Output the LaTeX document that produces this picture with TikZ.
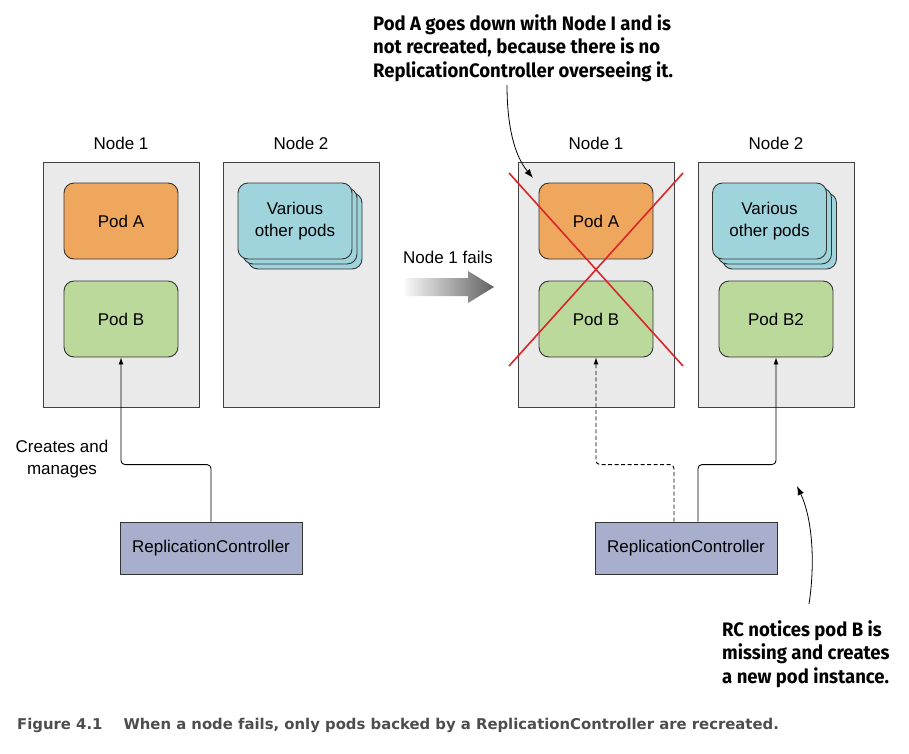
\documentclass[tikz,border=0pt]{standalone}
\usepackage{fontspec}
\setmainfont{Liberation Sans}
\newfontfamily\annfont[FakeStretch=0.95]{Fira Sans Bold}
\newfontfamily\capfont{DejaVu Sans Bold}
\usetikzlibrary{arrows.meta}
\definecolor{nodegray}{HTML}{EAEAEA}
\definecolor{podorange}{HTML}{EFA65D}
\definecolor{podgreen}{HTML}{BBD99A}
\definecolor{podblue}{HTML}{A0D4DC}
\definecolor{rcblue}{HTML}{A8AFCD}
\definecolor{xred}{HTML}{D9262A}
\definecolor{capgray}{HTML}{4D4D4D}
\begin{document}
\begin{tikzpicture}[x=1pt,y=-1pt,
  nodebox/.style={draw=black!75, fill=nodegray, line width=0.9pt, minimum width=156pt, minimum height=245pt, inner sep=0pt, anchor=north west},
  lbl/.style={font=\fontsize{17}{19}\selectfont, inner sep=0pt},
  pod/.style={draw=black!80, rounded corners=10pt, line width=0.9pt, minimum width=114pt, minimum height=76pt, inner sep=0pt, align=center, font=\fontsize{17}{22}\selectfont},
  rcbox/.style={draw=black!80, fill=rcblue, line width=0.9pt, minimum width=182pt, minimum height=52pt, inner sep=0pt, font=\fontsize{17}{19}\selectfont},
  conn/.style={line width=0.9pt, rounded corners=4pt, -{Latex[length=7pt,width=5pt]}},
  ann/.style={font=\annfont\fontsize{19.5}{23.5}\selectfont, align=left, inner sep=0pt, anchor=north west},
  annarrow/.style={line width=0.8pt, -{Latex[length=9pt,width=6.5pt]}},
  redx/.style={draw=xred, line width=1.6pt}
]
\useasboundingbox (0,0) rectangle (909,753);

% ---------- left: before ----------
\node[nodebox] (n1L) at (43,162) {};
\node[nodebox] (n2L) at (223,162) {};
\node[lbl] (n1Lt) at (121,143) {Node 1};
\node[lbl] (n2Lt) at (301,143) {Node 2};
\node[pod, fill=podorange] (podAL) at (121,221) {Pod A};
\node[pod, fill=podgreen] (podBL) at (121,319) {Pod B};
\node[pod, fill=podblue] (varL3) at (305,231) {};
\node[pod, fill=podblue] (varL2) at (300,226) {};
\node[pod, fill=podblue] (varL) at (295,221) {Various\\other pods};
\node[rcbox] (rcL) at (211,548) {ReplicationController};
\node[lbl, align=center, font=\fontsize{17}{22}\selectfont] (cmL) at (62,459) {Creates and\\manages};
\draw[conn] (rcL.north) -- ++(0,-57) -| (podBL.south);

% ---------- middle arrow ----------
\node[lbl] (fails) at (448,257) {Node 1 fails};
\shade[left color=black!3, right color=black!62]
  (405,278) -- (468,278) -- (468,271) -- (494,287) -- (468,303) -- (468,296) -- (405,296) -- cycle;

% ---------- right: after ----------
\node[nodebox] (n1R) at (518,162) {};
\node[nodebox] (n2R) at (698,162) {};
\node[lbl] (n1Rt) at (596,143) {Node 1};
\node[lbl] (n2Rt) at (776,143) {Node 2};
\node[pod, fill=podorange] (podAR) at (596,221) {Pod A};
\node[pod, fill=podgreen] (podBR) at (596,319) {Pod B};
\node[pod, fill=podblue] (varR3) at (779.5,231) {};
\node[pod, fill=podblue] (varR2) at (774.5,226) {};
\node[pod, fill=podblue] (varR) at (769.5,221) {Various\\other pods};
\node[pod, fill=podgreen] (podB2) at (776,319) {Pod B2};
\coordinate (x1) at (509,173);
\coordinate (x2) at (683,366);
\coordinate (x3) at (683,173);
\coordinate (x4) at (509,366);
\draw[redx] (x1) -- (x2);
\draw[redx] (x3) -- (x4);
\node[rcbox] (rcR) at (686,548) {ReplicationController};
\draw[conn, dashed, dash pattern=on 4pt off 2.5pt] ([xshift=-12pt]rcR.north) -- ++(0,-57) -| (podBR.south);
\draw[conn] ([xshift=12pt]rcR.north) -- ++(0,-57) -| (podB2.south);

% ---------- annotations ----------
\node[ann] (ann1) at (373,14) {Pod A goes down with Node I and is\\not recreated, because there is no\\ReplicationController overseeing it.};
\coordinate (a1s) at (507,85);
\coordinate (a1e) at (533,178);
\draw[annarrow] (a1s) .. controls (507,125) and (514,155) .. (a1e);

\node[ann] (ann2) at (722,620) {RC notices pod B is\\missing and creates\\a new pod instance.};
\coordinate (a2s) at (809,604);
\coordinate (a2e) at (797,486);
\draw[annarrow] (a2s) .. controls (815,565) and (813,520) .. (a2e);

% ---------- caption ----------
\node[font=\capfont\fontsize{14.85}{18}\selectfont, text=capgray, anchor=west, inner sep=0pt] (cap) at (17,725)
  {Figure 4.1\hspace{21pt}When a node fails, only pods backed by a ReplicationController are recreated.};
\end{tikzpicture}
\end{document}
